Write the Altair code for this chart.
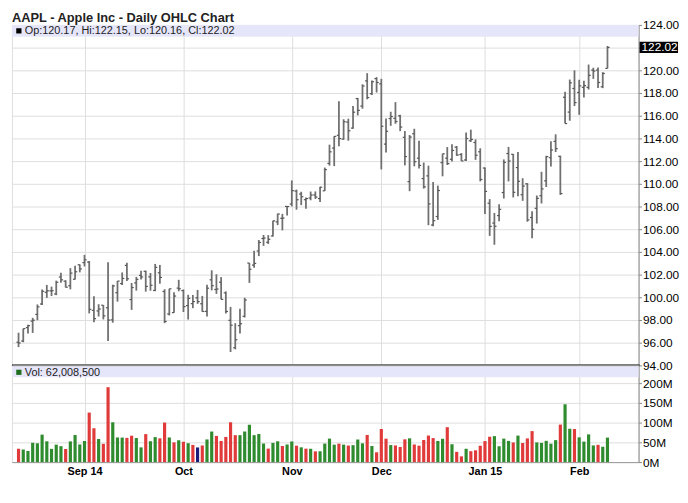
import altair as alt
import pandas as pd

# ---------------- data (AAPL daily, 12 Aug 2014 - 10 Feb 2015) ----------------
dates = [
    "2014-08-12", "2014-08-13", "2014-08-14", "2014-08-15", "2014-08-18", "2014-08-19", "2014-08-20",
    "2014-08-21", "2014-08-22", "2014-08-25", "2014-08-26", "2014-08-27", "2014-08-28", "2014-08-29",
    "2014-09-02", "2014-09-03", "2014-09-04", "2014-09-05", "2014-09-08", "2014-09-09", "2014-09-10",
    "2014-09-11", "2014-09-12", "2014-09-15", "2014-09-16", "2014-09-17", "2014-09-18", "2014-09-19",
    "2014-09-22", "2014-09-23", "2014-09-24", "2014-09-25", "2014-09-26", "2014-09-29", "2014-09-30",
    "2014-10-01", "2014-10-02", "2014-10-03", "2014-10-06", "2014-10-07", "2014-10-08", "2014-10-09",
    "2014-10-10", "2014-10-13", "2014-10-14", "2014-10-15", "2014-10-16", "2014-10-17", "2014-10-20",
    "2014-10-21", "2014-10-22", "2014-10-23", "2014-10-24", "2014-10-27", "2014-10-28", "2014-10-29",
    "2014-10-30", "2014-10-31", "2014-11-03", "2014-11-04", "2014-11-05", "2014-11-06", "2014-11-07",
    "2014-11-10", "2014-11-11", "2014-11-12", "2014-11-13", "2014-11-14", "2014-11-17", "2014-11-18",
    "2014-11-19", "2014-11-20", "2014-11-21", "2014-11-24", "2014-11-25", "2014-11-26", "2014-11-28",
    "2014-12-01", "2014-12-02", "2014-12-03", "2014-12-04", "2014-12-05", "2014-12-08", "2014-12-09",
    "2014-12-10", "2014-12-11", "2014-12-12", "2014-12-15", "2014-12-16", "2014-12-17", "2014-12-18",
    "2014-12-19", "2014-12-22", "2014-12-23", "2014-12-24", "2014-12-26", "2014-12-29", "2014-12-30",
    "2014-12-31", "2015-01-02", "2015-01-05", "2015-01-06", "2015-01-07", "2015-01-08", "2015-01-09",
    "2015-01-12", "2015-01-13", "2015-01-14", "2015-01-15", "2015-01-16", "2015-01-20", "2015-01-21",
    "2015-01-22", "2015-01-23", "2015-01-26", "2015-01-27", "2015-01-28", "2015-01-29", "2015-01-30",
    "2015-02-02", "2015-02-03", "2015-02-04", "2015-02-05", "2015-02-06", "2015-02-09", "2015-02-10",
]
opens = [
    96.04, 96.15, 97.33, 97.90, 98.49, 99.41, 100.44, 100.57, 100.29, 101.79, 101.42, 101.02, 101.59, 102.86,
    103.06, 103.10, 98.85, 98.80, 99.30, 99.08, 98.01, 100.41, 101.21, 102.81, 99.80, 101.27, 101.93, 102.29,
    101.80, 100.60, 102.16, 100.51, 98.53, 98.65, 100.81, 100.59, 99.27, 99.44, 99.95, 99.43, 98.76, 101.54,
    100.69, 101.33, 100.39, 97.97, 95.55, 97.50, 98.32, 103.02, 102.84, 104.08, 105.18, 104.85, 105.40, 106.65,
    106.96, 108.01, 108.22, 109.36, 109.10, 108.60, 108.75, 109.02, 108.70, 109.38, 111.80, 113.15, 114.27,
    113.94, 115.44, 114.91, 117.51, 116.85, 119.07, 117.94, 119.27, 118.81, 113.50, 115.75, 115.77, 115.99,
    114.10, 110.19, 114.41, 112.26, 110.46, 110.70, 106.37, 107.12, 111.87, 112.26, 112.16, 113.23, 112.58,
    112.10, 113.79, 113.64, 112.82, 111.39, 108.29, 106.54, 107.20, 109.23, 112.67, 112.60, 111.43, 109.04,
    110.00, 107.03, 107.84, 108.95, 110.26, 112.30, 113.74, 112.42, 117.63, 116.32, 118.40, 118.05, 118.50,
    118.50, 120.02, 120.02, 118.55, 120.17,
]
highs = [
    96.88, 97.24, 97.57, 98.19, 99.37, 100.68, 101.09, 100.94, 101.47, 102.17, 101.50, 102.57, 102.78, 102.90,
    103.74, 103.20, 100.09, 99.39, 99.31, 103.08, 101.11, 101.44, 102.19, 103.05, 101.26, 101.80, 102.35, 102.35,
    102.14, 102.94, 102.85, 100.71, 100.75, 100.44, 101.54, 100.69, 100.22, 100.21, 100.65, 100.12, 101.11, 102.38,
    102.03, 101.78, 100.52, 99.15, 97.72, 99.00, 99.96, 103.02, 104.11, 105.05, 105.49, 105.48, 106.74, 107.37,
    107.35, 108.04, 110.30, 109.49, 109.30, 108.79, 109.32, 109.33, 109.75, 111.43, 113.45, 114.19, 117.28,
    115.69, 115.74, 116.86, 117.57, 118.77, 119.75, 119.10, 119.40, 119.25, 115.75, 116.35, 117.20, 116.08,
    114.65, 114.30, 114.85, 113.80, 111.87, 111.60, 110.16, 109.84, 112.65, 113.24, 113.49, 113.33, 112.71,
    114.52, 114.77, 113.92, 113.13, 111.44, 108.65, 107.43, 108.20, 112.15, 113.25, 112.63, 112.80, 110.49,
    110.06, 107.58, 108.97, 111.06, 112.47, 113.75, 114.36, 112.48, 118.12, 119.19, 120.00, 119.17, 119.09,
    120.51, 120.23, 120.25, 119.84, 122.15,
]
lows = [
    95.61, 96.04, 96.80, 96.86, 97.98, 99.32, 99.95, 100.11, 100.19, 101.28, 100.86, 100.70, 101.56, 102.20,
    102.72, 98.58, 97.79, 98.31, 98.05, 96.14, 97.76, 99.62, 101.08, 101.44, 98.89, 100.59, 101.56, 100.50,
    100.58, 100.54, 101.20, 97.72, 98.40, 98.63, 100.53, 98.70, 98.04, 99.04, 99.42, 98.73, 98.31, 100.61,
    100.30, 99.81, 98.57, 95.18, 95.41, 96.81, 98.22, 101.27, 102.60, 103.63, 104.53, 104.70, 105.35, 106.36,
    105.90, 107.21, 108.01, 107.72, 108.12, 107.80, 108.55, 108.67, 108.40, 109.37, 111.60, 111.56, 113.30,
    113.89, 113.80, 114.85, 116.03, 116.62, 117.45, 117.83, 118.05, 111.27, 112.75, 115.11, 115.29, 114.64,
    111.62, 109.35, 111.54, 111.34, 109.58, 106.35, 106.26, 106.82, 110.66, 111.66, 111.97, 112.46, 112.01,
    112.01, 113.70, 112.11, 110.21, 107.35, 105.41, 104.63, 106.70, 108.70, 110.21, 108.80, 108.91, 108.50,
    106.66, 105.20, 106.50, 108.27, 109.72, 111.53, 112.80, 109.03, 115.31, 115.56, 116.85, 116.08, 117.61,
    118.31, 119.25, 118.45, 118.43, 120.16,
]
closes = [
    95.97, 97.24, 97.50, 97.98, 99.16, 100.53, 100.57, 100.58, 101.32, 101.54, 100.89, 102.13, 102.25, 102.50,
    103.30, 98.94, 98.12, 98.97, 98.36, 97.99, 101.00, 101.43, 101.66, 101.63, 100.86, 101.58, 101.79, 100.96,
    101.06, 102.64, 101.75, 97.87, 100.75, 100.11, 100.75, 99.18, 99.90, 99.62, 99.62, 98.75, 100.80, 101.02,
    100.73, 99.81, 98.75, 97.54, 96.26, 97.67, 99.76, 102.47, 102.99, 104.83, 105.22, 105.11, 106.74, 107.34,
    106.98, 108.00, 109.40, 108.60, 108.86, 108.70, 109.01, 108.83, 109.70, 111.25, 112.82, 114.18, 113.99,
    115.47, 114.67, 116.31, 116.47, 118.62, 117.60, 119.00, 118.93, 115.07, 114.63, 115.93, 115.49, 115.00,
    112.40, 114.12, 111.95, 111.62, 109.73, 108.23, 106.75, 109.41, 112.65, 111.78, 112.94, 112.54, 112.01,
    113.99, 113.91, 112.52, 110.38, 109.33, 106.25, 106.26, 107.75, 111.89, 112.01, 109.25, 110.22, 109.80,
    106.82, 105.99, 108.72, 109.55, 112.40, 112.98, 113.10, 109.14, 115.31, 118.90, 117.16, 118.63, 118.65,
    119.56, 119.94, 118.93, 119.72, 122.02,
]
volumes_m = [
    33.8, 31.9, 28.1, 48.9, 47.6, 69.5, 52.7, 33.5, 44.2, 40.3, 33.2, 52.4, 68.5, 44.6,
    53.5, 125.4, 85.7, 58.5, 46.4, 189.8, 100.9, 62.4, 62.1, 61.3, 66.9, 60.9, 37.3, 70.9,
    52.8, 63.4, 60.2, 100.1, 62.4, 49.9, 55.3, 51.5, 47.8, 43.5, 37.1, 42.1, 57.4, 77.4,
    66.3, 53.6, 63.7, 100.9, 68.2, 68.2, 77.5, 94.6, 68.3, 71.1, 47.0, 34.2, 48.6, 52.7,
    40.7, 44.6, 52.3, 41.6, 37.4, 34.0, 33.7, 27.2, 27.4, 46.9, 59.5, 44.1, 46.7,
    44.2, 41.9, 42.9, 57.2, 47.5, 68.8, 40.8, 24.8, 83.8, 59.3, 43.1, 42.2, 38.3,
    57.7, 60.2, 44.6, 41.5, 56.0, 67.2, 60.8, 53.4, 59.0, 88.4, 45.2, 26.0, 14.5,
    33.7, 27.6, 29.9, 41.4, 53.2, 64.3, 65.8, 40.1, 59.4, 53.7, 49.7, 67.1, 48.3,
    60.0, 78.5, 49.9, 48.6, 53.8, 46.5, 55.6, 95.0, 146.5, 84.4, 83.7, 62.7, 51.9,
    70.1, 42.2, 43.7, 38.9, 62.0085,
]
prev_close_first = 95.99  # close of 11 Aug 2014

month_labels = ["Sep 14", "Oct", "Nov", "Dec", "Jan 15", "Feb"]
price_ticks = [94, 96, 98, 100, 102, 104, 106, 108, 110, 112, 114, 116, 118, 120, 122, 124]
vol_ticks = [0, 50, 100, 150, 200]
title_text = "AAPL - Apple Inc - Daily OHLC Chart"

# ---------------- derived tables ----------------
n = len(closes)
prev = [prev_close_first] + closes[:-1]
direction = ["up" if c > p else ("down" if c < p else "flat") for c, p in zip(closes, prev)]
df = pd.DataFrame({
    "i": list(range(n)), "date": dates, "o": opens, "h": highs, "l": lows,
    "c": closes, "v": volumes_m, "d": direction,
})
tick_idx = [k for k in range(1, n) if dates[k][:7] != dates[k - 1][:7]]
label_expr = "''"
for k, lab in reversed(list(zip(tick_idx, month_labels))):
    label_expr = f"datum.value == {k} ? '{lab}' : ({label_expr})"

last_close = closes[-1]
price_label_expr = f"abs(datum.value - {last_close}) < 1.2 ? '' : format(datum.value, '.2f')"
ohlc_text = f"Op:{opens[-1]:.2f}, Hi:{highs[-1]:.2f}, Lo:{lows[-1]:.2f}, Cl:{closes[-1]:.2f}"
vol_text = f"Vol: {int(round(volumes_m[-1] * 1e6)):,}"
one = pd.DataFrame({"k": [0]})
last = pd.DataFrame({"c": [last_close], "c_hi": [last_close + 0.5], "c_lo": [last_close - 0.5],
                     "lbl": [f"{last_close:.2f}"]})

# ---------------- layout ----------------
W, HP, HV = 635, 345, 98
FONT = "Liberation Sans"
xscale = alt.Scale(domain=[-1.4, 131.6], nice=False, zero=False)
yscale = alt.Scale(domain=[94, 124], nice=False, zero=False)
vscale = alt.Scale(domain=[0, 245], nice=False, zero=True)

x_axis_price = alt.Axis(values=tick_idx, labels=False, ticks=False, domain=False, grid=True, title=None, tickSize=0)
x_axis_vol = alt.Axis(values=tick_idx, labelExpr=label_expr, ticks=False, tickSize=0, grid=True, title=None,
                      labelFontWeight="bold", labelFontSize=11, labelPadding=4, domain=True, domainColor="#999")
y_axis_price = alt.Axis(values=price_ticks, labelExpr=price_label_expr, orient="right", title=None, grid=True,
                        tickSize=3, labelPadding=1, labelFontSize=12)
y_axis_vol = alt.Axis(values=vol_ticks, labelExpr="datum.value + 'M'", orient="right", title=None, grid=True,
                      tickSize=3, labelPadding=1, labelFontSize=12)


def py(field):
    return alt.Y(field, type="quantitative", scale=yscale, axis=y_axis_price)


def px(field):
    return alt.X(field, type="quantitative", scale=xscale, axis=x_axis_price)


band_p = alt.Chart(one).mark_rect(color="#e6e6fa").encode(
    x=alt.value(0), x2=alt.value(W), y=alt.value(0), y2=alt.value(12))
base = alt.Chart(df)
hl = base.mark_rule(color="#707070", strokeWidth=1.8).encode(x=px("i"), y=py("l"), y2="h:Q")
op = base.transform_calculate(il="datum.i - 0.45").mark_rule(color="#555", strokeWidth=1.2).encode(
    x=px("il"), x2="i:Q", y=py("o"))
cl = base.transform_calculate(ir="datum.i + 0.45").mark_rule(color="#555", strokeWidth=1.2).encode(
    x=px("i"), x2="ir:Q", y=py("c"))
leg_sq = alt.Chart(one).mark_square(color="black", size=28, opacity=1).encode(x=alt.value(7), y=alt.value(6))
leg_tx = alt.Chart(one).mark_text(align="left", baseline="middle", font=FONT, fontSize=11, color="#222").encode(
    x=alt.value(13), y=alt.value(6.5), text=alt.value(ohlc_text))
title_mk = alt.Chart(one).mark_text(align="left", baseline="top", font=FONT, fontSize=13, fontWeight="bold",
                                    color="#222").encode(x=alt.value(0), y=alt.value(-13), text=alt.value(title_text))
sep = alt.Chart(one).mark_rule(color="black", strokeWidth=2).encode(x=alt.value(0), x2=alt.value(W + 1),
                                                                    y=alt.value(HP))
box = alt.Chart(last).mark_rect(color="black").encode(x=alt.value(W + 1), x2=alt.value(W + 40),
                                                      y=py("c_hi"), y2="c_lo:Q")
box_tx = alt.Chart(last).mark_text(align="left", baseline="middle", font=FONT, fontSize=12, color="white").encode(
    x=alt.value(W + 3), y=py("c"), text="lbl:N")

price = alt.layer(band_p, hl, op, cl, sep, leg_sq, leg_tx, title_mk, box, box_tx).properties(width=W, height=HP)

band_v = alt.Chart(one).mark_rect(color="#e6e6fa").encode(
    x=alt.value(0), x2=alt.value(W), y=alt.value(1), y2=alt.value(12))
bars = base.transform_calculate(z="0").mark_rule(strokeWidth=3.2).encode(
    x=alt.X("i:Q", scale=xscale, axis=x_axis_vol),
    y=alt.Y("v:Q", scale=vscale, axis=y_axis_vol),
    y2="z:Q",
    color=alt.Color("d:N", scale=alt.Scale(domain=["up", "down", "flat"],
                                           range=["#2e8b2e", "#e03a3a", "#1c1c7a"]), legend=None),
)
vleg_sq = alt.Chart(one).mark_square(color="#1f6e1f", size=28, opacity=1).encode(x=alt.value(7), y=alt.value(7))
vleg_tx = alt.Chart(one).mark_text(align="left", baseline="middle", font=FONT, fontSize=11, color="#222").encode(
    x=alt.value(13), y=alt.value(7.5), text=alt.value(vol_text))
volume = alt.layer(band_v, bars, vleg_sq, vleg_tx).properties(width=W, height=HV)

chart = alt.vconcat(price, volume, spacing=0, bounds="flush").properties(
    padding={"left": 2, "top": 0, "right": 0, "bottom": 0}
).configure_view(stroke="#999", strokeWidth=1).configure_axis(
    gridColor="#dadada", gridWidth=1, labelFont=FONT, labelFontSize=11, labelColor="#333",
    domainColor="#999", tickColor="#888",
).configure(background="white")

chart.save("out.html", embed_options={"renderer": "svg", "actions": False})
